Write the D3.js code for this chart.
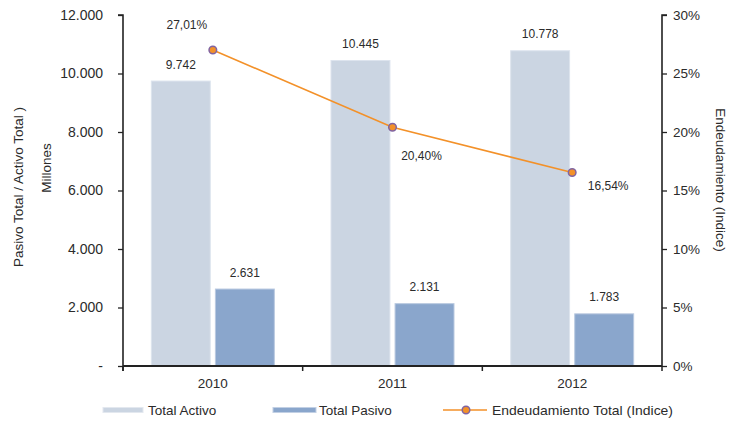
<!DOCTYPE html>
<html>
<head>
<meta charset="utf-8">
<script src="https://cdnjs.cloudflare.com/ajax/libs/d3/7.8.5/d3.min.js"></script>
<style>
  html, body { margin: 0; padding: 0; background: #fff; }
  svg { display: block; font-family: "Liberation Sans", Arial, sans-serif; }
</style>
</head>
<body>
<svg id="chart" width="732" height="422"></svg>
<script>
// Balance figures (millions) and debt ratio per year
const years = ["2010", "2011", "2012"];
const totalActivo = [9742, 10445, 10778];
const totalPasivo = [2631, 2131, 1783];
const endeudamiento = [0.2701, 0.2040, 0.1654];
const activoLabels = ["9.742", "10.445", "10.778"];
const pasivoLabels = ["2.631", "2.131", "1.783"];
const ratioLabels = ["27,01%", "20,40%", "16,54%"];
const leftTicks = [0, 2000, 4000, 6000, 8000, 10000, 12000];
const leftTickLabels = ["-", "2.000", "4.000", "6.000", "8.000", "10.000", "12.000"];
const rightTicks = [0, 0.05, 0.10, 0.15, 0.20, 0.25, 0.30];
const rightTickLabels = ["0%", "5%", "10%", "15%", "20%", "25%", "30%"];
const seriesNames = ["Total Activo", "Total Pasivo", "Endeudamiento Total (Indice)"];

const colActivo = "#CBD5E2";
const colPasivo = "#8AA6CC";
const colLine = "#F39129";
const colMarkerStroke = "#8064A2";
const axisCol = "#222";
const textCol = "#2b2b2b";

const svg = d3.select("#chart");
const plot = { left: 123, right: 662, top: 15, bottom: 366 };

const x = d3.scaleBand().domain(years).range([plot.left, plot.right]).padding(0);
const sub = d3.scaleBand().domain(["activo", "pasivo"]).range([-61.5, 61.5]).paddingInner(0.08).paddingOuter(0);
const yL = d3.scaleLinear().domain([0, 12000]).range([plot.bottom, plot.top]);
const yR = d3.scaleLinear().domain([0, 0.30]).range([plot.bottom, plot.top]);
const cx = d => x(d) + x.bandwidth() / 2;

// Bars
const rows = years.map((yr, i) => ({ yr, activo: totalActivo[i], pasivo: totalPasivo[i], ratio: endeudamiento[i], i }));

const g = svg.append("g");
g.selectAll("rect.activo").data(rows).join("rect")
  .attr("x", d => cx(d.yr) + sub("activo"))
  .attr("y", d => yL(d.activo))
  .attr("width", sub.bandwidth())
  .attr("height", d => yL(0) - yL(d.activo))
  .attr("fill", colActivo)
  .attr("stroke", "#DDE4EE").attr("stroke-width", 1);

g.selectAll("rect.pasivo").data(rows).join("rect")
  .attr("x", d => cx(d.yr) + sub("pasivo"))
  .attr("y", d => yL(d.pasivo))
  .attr("width", sub.bandwidth())
  .attr("height", d => yL(0) - yL(d.pasivo))
  .attr("fill", colPasivo)
  .attr("stroke", "#B9C9E0").attr("stroke-width", 1);

// Bar value labels
g.selectAll("text.la").data(rows).join("text")
  .attr("x", d => cx(d.yr) + sub("activo") + sub.bandwidth() / 2)
  .attr("y", d => yL(d.activo) - 12.5)
  .attr("text-anchor", "middle").attr("font-size", 12).attr("fill", textCol)
  .text(d => activoLabels[d.i]);

g.selectAll("text.lp").data(rows).join("text")
  .attr("x", d => cx(d.yr) + sub("pasivo") + sub.bandwidth() / 2)
  .attr("y", d => yL(d.pasivo) - 12.5)
  .attr("text-anchor", "middle").attr("font-size", 12).attr("fill", textCol)
  .text(d => pasivoLabels[d.i]);

// Axes
const axisLeft = d3.axisLeft(yL).tickValues(leftTicks).tickSize(5).tickPadding(15)
  .tickFormat((d, i) => leftTickLabels[i]);
const gl = svg.append("g").attr("transform", `translate(${plot.left},0)`).call(axisLeft);

const axisRight = d3.axisRight(yR).tickValues(rightTicks).tickSize(5).tickPadding(6)
  .tickFormat((d, i) => rightTickLabels[i]);
const gr = svg.append("g").attr("transform", `translate(${plot.right},0)`).call(axisRight);

const axisBottom = d3.axisBottom(x).tickSize(0).tickPadding(12);
const gb = svg.append("g").attr("transform", `translate(0,${plot.bottom})`).call(axisBottom);
// category boundary ticks
gb.selectAll("line.boundary").data(years.concat(["end"])).join("line")
  .attr("class", "boundary")
  .attr("x1", (d, i) => plot.left + i * x.step()).attr("x2", (d, i) => plot.left + i * x.step())
  .attr("y1", 0).attr("y2", 5)
  .attr("stroke", axisCol).attr("stroke-width", 1.5);

[gl, gr, gb].forEach(a => {
  a.select(".domain").attr("stroke", axisCol).attr("stroke-width", 1.6);
  a.selectAll(".tick line").attr("stroke", axisCol).attr("stroke-width", 1.3);
  a.selectAll(".tick text").attr("fill", textCol).attr("font-size", 13.5)
    .attr("font-family", "'Liberation Sans', Arial, sans-serif");
});
gl.selectAll(".tick text").attr("font-size", 14);
gb.select(".domain").attr("d", `M${plot.left},0H${plot.right}`).attr("stroke-width", 2);
gl.select(".domain").attr("d", `M-5,${plot.top}H0V${plot.bottom + 5}`);
gr.select(".domain").attr("d", `M5,${plot.top}H0V${plot.bottom}`);
gr.selectAll(".tick text").attr("font-size", 13.5);

// Ratio line
const line = d3.line().x(d => cx(d.yr)).y(d => yR(d.ratio));
svg.append("path").datum(rows).attr("d", line)
  .attr("fill", "none").attr("stroke", colLine).attr("stroke-width", 1.6);
svg.selectAll("circle.pt").data(rows).join("circle")
  .attr("cx", d => cx(d.yr)).attr("cy", d => yR(d.ratio)).attr("r", 3.8)
  .attr("fill", colLine).attr("stroke", colMarkerStroke).attr("stroke-width", 1.5);

// Ratio labels, placed around each marker
const ratioOffsets = [[-26, -21], [29, 33], [36, 17.5]];
svg.selectAll("text.pct").data(rows).join("text")
  .attr("x", d => cx(d.yr) + ratioOffsets[d.i][0])
  .attr("y", d => yR(d.ratio) + ratioOffsets[d.i][1])
  .attr("text-anchor", "middle").attr("font-size", 12).attr("fill", textCol)
  .text(d => ratioLabels[d.i]);

// Axis titles
svg.append("text").attr("transform", "translate(23,187) rotate(-90)")
  .attr("text-anchor", "middle").attr("font-size", 13.5).attr("fill", textCol)
  .text("Pasivo Total / Activo Total )");
svg.append("text").attr("transform", "translate(51,168) rotate(-90)")
  .attr("text-anchor", "middle").attr("font-size", 13.5).attr("fill", textCol)
  .text("Millones");
svg.append("text").attr("transform", "translate(716,180) rotate(90)")
  .attr("text-anchor", "middle").attr("font-size", 13.5).attr("fill", textCol)
  .text("Endeudamiento (Indice)");

// Legend
const lg = svg.append("g");
const ly = 410;
lg.append("rect").attr("x", 103).attr("y", ly - 2.5).attr("width", 40).attr("height", 5)
  .attr("fill", colActivo).attr("stroke", "#E3E8EF").attr("stroke-width", 1);
lg.append("text").attr("x", 148).attr("y", ly + 5).attr("font-size", 13.5).attr("fill", textCol).text(seriesNames[0]);
lg.append("rect").attr("x", 273).attr("y", ly - 2.5).attr("width", 43).attr("height", 5)
  .attr("fill", colPasivo).attr("stroke", "#C2D0E4").attr("stroke-width", 1);
lg.append("text").attr("x", 319).attr("y", ly + 5).attr("font-size", 13.5).attr("fill", textCol).text(seriesNames[1]);
lg.append("line").attr("x1", 443).attr("x2", 487).attr("y1", ly).attr("y2", ly)
  .attr("stroke", colLine).attr("stroke-width", 1.6);
lg.append("circle").attr("cx", 466).attr("cy", ly).attr("r", 3.8)
  .attr("fill", colLine).attr("stroke", colMarkerStroke).attr("stroke-width", 1.5);
lg.append("text").attr("x", 492).attr("y", ly + 5).attr("font-size", 13.5).attr("fill", textCol)
  .attr("textLength", 181).attr("lengthAdjust", "spacingAndGlyphs").text(seriesNames[2]);
</script>
</body>
</html>
